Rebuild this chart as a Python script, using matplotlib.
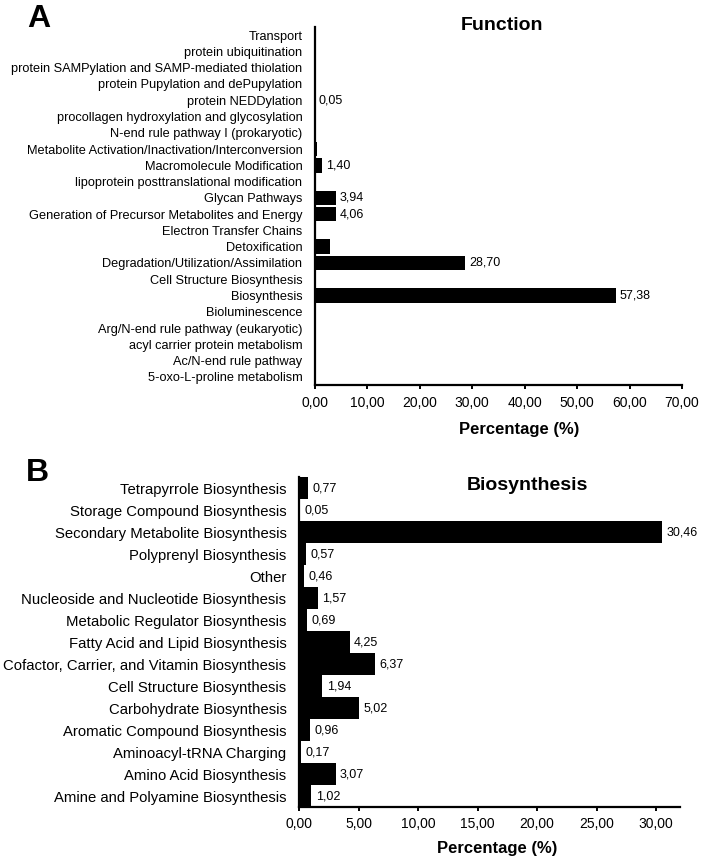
import matplotlib
matplotlib.use("Agg")
import matplotlib.pyplot as plt
from matplotlib.ticker import FuncFormatter
import matplotlib.transforms as mtransforms

plt.rcParams['font.family'] = ['Liberation Sans', 'DejaVu Sans']

# Panel A - function categories (top to bottom as shown)
func_labels = [
    "Transport",
    "protein ubiquitination",
    "protein SAMPylation and SAMP-mediated thiolation",
    "protein Pupylation and dePupylation",
    "protein NEDDylation",
    "procollagen hydroxylation and glycosylation",
    "N-end rule pathway I (prokaryotic)",
    "Metabolite Activation/Inactivation/Interconversion",
    "Macromolecule Modification",
    "lipoprotein posttranslational modification",
    "Glycan Pathways",
    "Generation of Precursor Metabolites and Energy",
    "Electron Transfer Chains",
    "Detoxification",
    "Degradation/Utilization/Assimilation",
    "Cell Structure Biosynthesis",
    "Biosynthesis",
    "Bioluminescence",
    "Arg/N-end rule pathway (eukaryotic)",
    "acyl carrier protein metabolism",
    "Ac/N-end rule pathway",
    "5-oxo-L-proline metabolism",
]
func_values = [0, 0, 0, 0, 0.05, 0, 0, 0.4, 1.40, 0, 3.94, 4.06, 0, 2.9,
               28.70, 0, 57.38, 0, 0, 0, 0, 0]
# which bars carry a value label
func_shown = [False, False, False, False, True, False, False, False, True, False,
              True, True, False, False, True, False, True, False, False, False,
              False, False]

# Panel B - biosynthesis subcategories (top to bottom)
bio_labels = [
    "Tetrapyrrole Biosynthesis",
    "Storage Compound Biosynthesis",
    "Secondary Metabolite Biosynthesis",
    "Polyprenyl Biosynthesis",
    "Other",
    "Nucleoside and Nucleotide Biosynthesis",
    "Metabolic Regulator Biosynthesis",
    "Fatty Acid and Lipid Biosynthesis",
    "Cofactor, Carrier, and Vitamin Biosynthesis",
    "Cell Structure Biosynthesis",
    "Carbohydrate Biosynthesis",
    "Aromatic Compound Biosynthesis",
    "Aminoacyl-tRNA Charging",
    "Amino Acid Biosynthesis",
    "Amine and Polyamine Biosynthesis",
]
bio_values = [0.77, 0.05, 30.46, 0.57, 0.46, 1.57, 0.69, 4.25, 6.37, 1.94,
              5.02, 0.96, 0.17, 3.07, 1.02]


def comma(x, pos=None):
    return f"{x:.2f}".replace(".", ",")


def style_axis(ax):
    for s in ["top", "right"]:
        ax.spines[s].set_visible(False)
    for s in ["left", "bottom"]:
        ax.spines[s].set_linewidth(1.6)
    ax.tick_params(axis="y", length=0, pad=9)
    ax.tick_params(axis="x", length=3, width=1.4, direction="out")
    ax.xaxis.set_major_formatter(FuncFormatter(comma))


fig = plt.figure(figsize=(7.02, 8.6), dpi=100)

# ---- Panel A
axA = fig.add_axes([0.4487, 0.5523, 0.9715 - 0.4487, 0.9686 - 0.5523])
n = len(func_labels)
ypos = list(range(n))
axA.barh(ypos, func_values, height=0.9, color="black")
axA.set_ylim(n - 0.5, -0.5)
axA.set_xlim(0, 70)
axA.set_xticks(range(0, 71, 10))
axA.set_yticks(ypos)
axA.set_yticklabels(func_labels, fontsize=9.2)
axA.tick_params(axis="x", labelsize=10, pad=5)
style_axis(axA)
offA = mtransforms.offset_copy(axA.transData, fig=fig, x=3.5, y=0, units="dots")
for y, v, show in zip(ypos, func_values, func_shown):
    if show:
        axA.text(v, y, comma(v), transform=offA, ha="left", va="center",
                 fontsize=9)

fig.text(0.715, 0.970, "Function", ha="center", va="center",
         fontsize=14, fontweight="bold")
fig.text(0.739, 0.501, "Percentage (%)", ha="center", va="center",
         fontsize=12, fontweight="bold")
fig.text(0.055, 0.978, "A", ha="center", va="center", fontsize=23,
         fontweight="bold")

# ---- Panel B
axB = fig.add_axes([0.4259, 0.0616, 0.9687 - 0.4259, 0.4453 - 0.0616])
m = len(bio_labels)
ypos2 = list(range(m))
axB.barh(ypos2, bio_values, height=1.0, color="black")
axB.set_ylim(m - 0.5, -0.5)
axB.set_xlim(0, 32)
axB.set_xticks(range(0, 31, 5))
axB.set_yticks(ypos2)
axB.set_yticklabels(bio_labels, fontsize=10.7)
axB.tick_params(axis="x", labelsize=10, pad=4)
style_axis(axB)
offB = mtransforms.offset_copy(axB.transData, fig=fig, x=4.5, y=0, units="dots")
for y, v in zip(ypos2, bio_values):
    axB.text(v, y, comma(v), transform=offB, ha="left", va="center",
             fontsize=9)

fig.text(0.751, 0.436, "Biosynthesis", ha="center", va="center",
         fontsize=14, fontweight="bold")
fig.text(0.708, 0.0128, "Percentage (%)", ha="center", va="center",
         fontsize=12, fontweight="bold")
fig.text(0.054, 0.450, "B", ha="center", va="center", fontsize=23,
         fontweight="bold")

fig.savefig("out.png", dpi=100)
